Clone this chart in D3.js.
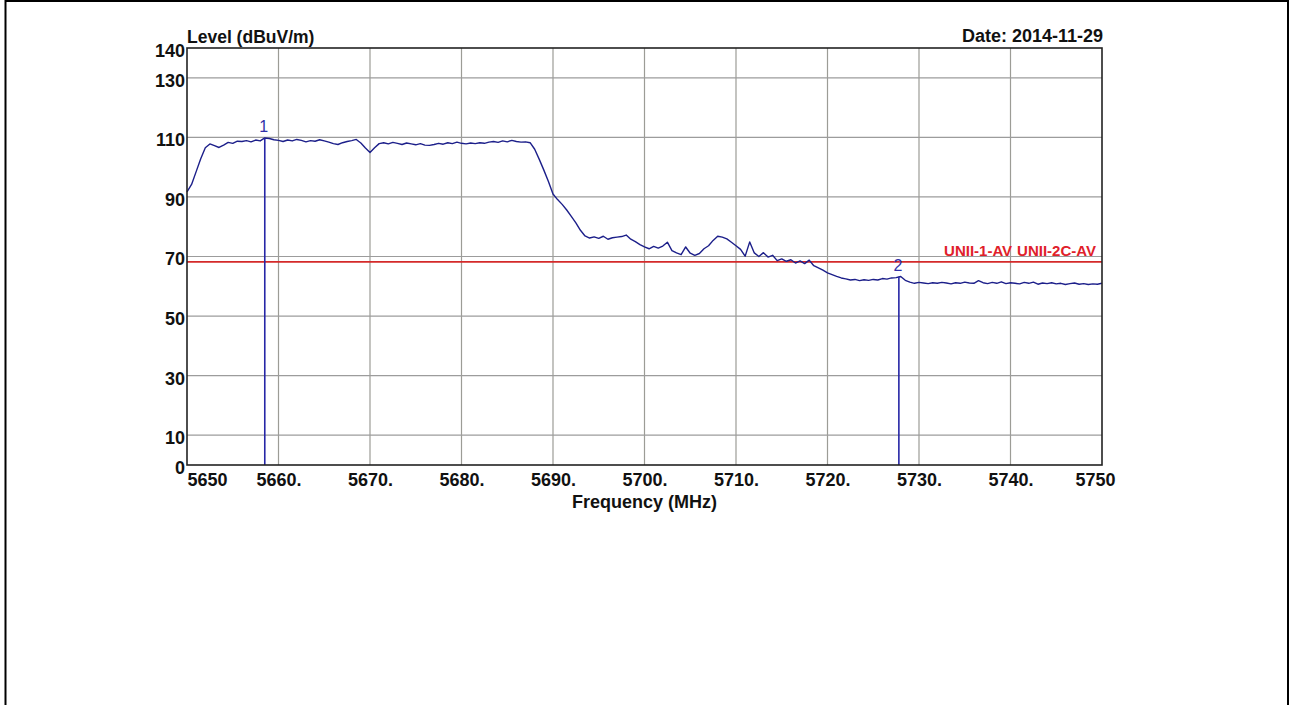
<!DOCTYPE html>
<html><head><meta charset="utf-8">
<script src="https://cdn.jsdelivr.net/npm/d3@7"></script>
<style>
body{margin:0;background:#fff}
svg{display:block}
text{font-family:"Liberation Sans",Arial,sans-serif}
</style>
</head><body>
<svg id="chart" width="1290" height="705"></svg>
<script>
// ---- data ----
const sweepStart = 5650, sweepStep = 0.5;   // MHz, analyser sweep grid
const levels = [
91.7,94.2,98.5,102.8,106.5,107.8,107.2,106.6,107.4,108.3,
108.0,108.7,108.6,108.9,108.5,109.1,108.8,109.8,109.6,109.2,
109.0,108.6,109.1,108.8,109.3,109.0,108.5,108.9,108.7,109.2,
108.8,108.4,107.9,107.6,108.2,108.6,108.9,109.3,108.1,106.4,
104.9,106.5,107.9,108.2,107.8,108.3,108.0,107.6,108.1,107.8,
107.5,107.9,107.4,107.3,107.6,108.0,107.7,108.2,107.9,108.4,
108.0,107.8,108.1,107.9,108.2,108.0,108.4,108.6,108.3,108.8,
108.5,109.0,108.6,108.4,108.5,108.2,106.0,102.6,99.0,95.2,
91.0,89.1,87.5,85.6,83.5,81.3,78.8,76.9,76.2,76.6,
76.1,76.8,75.8,76.3,76.5,76.7,77.2,75.8,75.0,74.0,
73.2,72.6,73.4,72.8,73.5,74.8,72.0,71.2,70.6,73.2,
71.1,70.4,71.0,72.6,73.6,75.4,76.8,76.5,75.9,74.8,
73.6,72.4,70.1,74.9,71.2,70.0,71.3,69.8,70.4,68.6,
69.2,68.4,68.9,67.8,68.5,67.6,68.8,66.9,66.2,65.4,
64.5,63.9,63.3,62.8,62.5,62.1,62.3,61.9,62.2,62.0,
62.3,62.1,62.6,62.4,62.8,62.9,63.3,62.0,61.4,61.0,
61.3,61.1,60.9,61.2,61.0,61.3,61.1,60.8,61.2,61.0,
61.4,61.1,61.0,61.9,61.2,60.9,61.3,61.0,61.5,60.9,
61.2,61.0,60.8,61.3,61.0,61.4,60.7,61.1,60.9,61.2,
60.8,61.0,60.6,60.9,61.1,60.7,60.9,60.6,60.8,60.7,
61.0
];
const xTickValues = [5650,5660,5670,5680,5690,5700,5710,5720,5730,5740,5750];
const xTickLabels = ["5650","5660.","5670.","5680.","5690.","5700.","5710.","5720.","5730.","5740.","5750"];
const xGridValues = [5660,5670,5680,5690,5700,5710,5720,5730,5740];
const yTickValues = [0,10,30,50,70,90,110,130,140];
const yGridValues = [10,30,50,70,90,110,130];
const markerFreqs = [5658.5,5727.8];
const markerLevels = [109.8,63.2];
const markerNames = ["1","2"];
const limitLevel = 68.2;
const limitLabels = ["UNII-1-AV","UNII-2C-AV"];
const yTitle = "Level (dBuV/m)";
const xTitle = "Frequency (MHz)";
const dateText = "Date: 2014-11-29";

// ---- layout ----
const svg = d3.select("#chart");
const L = 187, R = 1102, T = 48, B = 465;
const x = d3.scaleLinear().domain([5650,5750]).range([L,R]);
const y = d3.scaleLinear().domain([0,140]).range([B,T]);

// outer page frame
svg.append("path").attr("d","M5.5,712V1H1288V712")
  .attr("fill","none").attr("stroke","#000").attr("stroke-width",2);

// grid
svg.append("g").selectAll("line").data(xGridValues).join("line")
  .attr("x1",d=>x(d)).attr("x2",d=>x(d)).attr("y1",T).attr("y2",B)
  .attr("stroke","#9c9c96").attr("stroke-width",1.2);
svg.append("g").selectAll("line").data(yGridValues).join("line")
  .attr("x1",L).attr("x2",R).attr("y1",d=>y(d)).attr("y2",d=>y(d))
  .attr("stroke","#9c9c9c").attr("stroke-width",1.2);

// limit line
svg.append("line").attr("x1",L).attr("x2",R)
  .attr("y1",y(limitLevel)).attr("y2",y(limitLevel))
  .attr("stroke","#d42a2a").attr("stroke-width",1.6);
// limit names, right-aligned just above the line, side by side
const limG = svg.append("g");
const lab2 = limG.append("text").attr("x",R-6).attr("y",y(limitLevel)-6)
  .attr("text-anchor","end").attr("font-size",15).attr("font-weight","bold")
  .attr("fill","#e0202a").text(limitLabels[1]);
const w2 = lab2.node().getComputedTextLength();
limG.append("text").attr("x",R-6-w2-5).attr("y",y(limitLevel)-6)
  .attr("text-anchor","end").attr("font-size",15).attr("font-weight","bold")
  .attr("fill","#e0202a").text(limitLabels[0]);

// trace
const pts = levels.map((v,i)=>[sweepStart + i*sweepStep, v]);
svg.append("path").datum(pts)
  .attr("d", d3.line().x(d=>x(d[0])).y(d=>y(d[1])))
  .attr("fill","none").attr("stroke","#1c1f8a").attr("stroke-width",1.4)
  .attr("stroke-linejoin","round");

// markers
const mk = svg.append("g");
markerFreqs.forEach((f,i)=>{
  mk.append("line").attr("x1",x(f)).attr("x2",x(f))
    .attr("y1",y(markerLevels[i])).attr("y2",B)
    .attr("stroke","#2626a6").attr("stroke-width",1.6);
  mk.append("text").attr("x",x(f)-1).attr("y",y(markerLevels[i])-6)
    .attr("text-anchor","middle").attr("font-size",16).attr("fill","#3030a8")
    .text(markerNames[i]);
});

// plot frame
svg.append("rect").attr("x",L).attr("y",T).attr("width",R-L).attr("height",B-T)
  .attr("fill","none").attr("stroke","#222").attr("stroke-width",1.6);

// axes
const xAxis = svg.append("g").attr("transform",`translate(0,${B})`)
  .call(d3.axisBottom(x).tickValues(xTickValues).tickSize(0).tickPadding(8)
    .tickFormat((d,i)=>xTickLabels[i]));
xAxis.select(".domain").remove();
xAxis.selectAll("text").attr("font-size",18).attr("font-weight","bold")
  .attr("fill","#111").attr("font-family","Liberation Sans, Arial, sans-serif");
xAxis.selectAll(".tick text").filter((d,i)=>i===0).attr("text-anchor","start").attr("dx",0);
xAxis.selectAll(".tick text").filter((d,i)=>i===xTickValues.length-1).attr("dx",-7);

const yAxis = svg.append("g").attr("transform",`translate(${L},0)`)
  .call(d3.axisLeft(y).tickValues(yTickValues).tickSize(0).tickPadding(2));
yAxis.select(".domain").remove();
yAxis.selectAll("text").attr("font-size",18).attr("font-weight","bold")
  .attr("fill","#111").attr("dy","0.47em")
  .attr("font-family","Liberation Sans, Arial, sans-serif");

// titles
svg.append("text").attr("x",L).attr("y",43).attr("font-size",17.5)
  .attr("font-weight","bold").attr("fill","#111").text(yTitle);
svg.append("text").attr("x",R+1).attr("y",42).attr("text-anchor","end")
  .attr("font-size",18).attr("font-weight","bold").attr("fill","#111").text(dateText);
svg.append("text").attr("x",(L+R)/2).attr("y",508).attr("text-anchor","middle")
  .attr("font-size",18).attr("font-weight","bold").attr("fill","#111").text(xTitle);
</script>
</body></html>
